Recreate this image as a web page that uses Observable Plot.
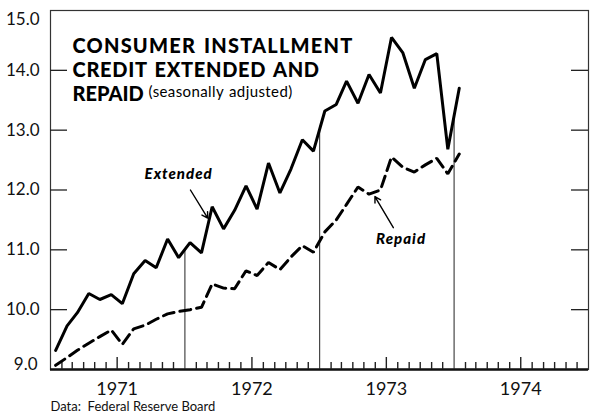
<!DOCTYPE html>
<html><head><meta charset="utf-8">
<script src="https://cdn.jsdelivr.net/npm/d3@7"></script>
<script src="https://cdn.jsdelivr.net/npm/@observablehq/plot@0.6"></script>
<style>body{margin:0;background:#fff}</style>
</head><body><div id="chart"></div>
<script>
// Monthly data, Jan 1971 .. Jan 1974 (billions of dollars, seasonally adjusted)
const startYear = 1971;
const extended = [9.32, 9.73, 9.95, 10.27, 10.17, 10.25, 10.1, 10.6, 10.82, 10.7, 11.18, 10.87,
                  11.12, 10.95, 11.72, 11.35, 11.66, 12.07, 11.68, 12.45, 11.95, 12.35, 12.84, 12.65,
                  13.32, 13.43, 13.82, 13.45, 13.93, 13.62, 14.55, 14.29, 13.70, 14.18, 14.28, 12.68,
                  13.70];
const repaid = [9.07, 9.2, 9.32, 9.44, 9.55, 9.66, 9.42, 9.68, 9.74, 9.84, 9.93, 9.97,
                10.0, 10.04, 10.43, 10.36, 10.35, 10.65, 10.57, 10.79, 10.67, 10.88, 11.07, 10.96,
                11.3, 11.5, 11.76, 12.05, 11.93, 12.0, 12.55, 12.38, 12.3, 12.42, 12.53, 12.27,
                12.6];
const yTicks = [10, 11, 12, 13, 14];
const yBottomLabel = [9];
const yTopLabel = [15];
const yearLabels = [1971, 1972, 1973, 1974];
const boundaryYears = [1972, 1973, 1974];
const titleLines = ["CONSUMER INSTALLMENT", "CREDIT EXTENDED AND", "REPAID"];
const subtitleText = "(seasonally adjusted)";
const captionText = "Data:  Federal Reserve Board";
const seriesLabels = [
  {text: "Extended", date: "1971-12-15", value: 12.27},
  {text: "Repaid", date: "1973-08-10", value: 11.17}
];
const arrowNotes = [
  {fromDate: "1972-01-16", fromValue: 12.0, toDate: "1972-03-03", toValue: 11.53},
  {fromDate: "1973-07-20", fromValue: 11.37, toDate: "1973-05-31", toValue: 11.89}
];

const monthDate = i => new Date(Date.UTC(startYear, i, 15));
const extData = extended.map((v, i) => ({date: monthDate(i), value: v}));
const repData = repaid.map((v, i) => ({date: monthDate(i), value: v}));

// vertical year-boundary lines reach up to the Extended line
const boundaries = boundaryYears.map(y => {
  const i = (y - startYear) * 12;
  const d = new Date(Date.UTC(y, 0, 1));
  const a = extData[i - 1], b = extData[i];
  const t = (d - a.date) / (b.date - a.date);
  return {date: d, top: a.value + t * (b.value - a.value)};
});

const monthTicks = d3.utcMonths(new Date(Date.UTC(1971, 0, 1)), new Date(Date.UTC(1975, 0, 1)))
  .filter(d => d.getUTCMonth() !== 0);
const smallTicks = monthTicks.filter(d => d.getUTCMonth() !== 6);
const midTicks = monthTicks.filter(d => d.getUTCMonth() === 6);

const innerH = 419 - 10 - 50;
const innerW = 592 - 50 - 4;

const chart = Plot.plot({
  width: 592, height: 419,
  marginLeft: 50, marginRight: 4, marginTop: 10, marginBottom: 50,
  x: {type: "utc", domain: [new Date(Date.UTC(1971, 0, 1)), new Date(Date.UTC(1975, 0, 1))], axis: null},
  y: {domain: [9, 15], axis: null},
  style: {fontFamily: "Lato, 'DejaVu Sans', sans-serif", background: "#fff", color: "#111"},
  marks: [
    Plot.frame({stroke: "#333", strokeWidth: 1.2}),
    Plot.ruleY([9], {stroke: "#111", strokeWidth: 2.5}),
    // y ticks, inward on both sides
    Plot.tickY(yTicks, {y: d => d, insetRight: innerW - 17, stroke: "#222", strokeWidth: 1.3}),
    Plot.tickY(yTicks, {y: d => d, insetLeft: innerW - 17, stroke: "#222", strokeWidth: 1.3}),
    // x month ticks
    Plot.tickX(smallTicks, {x: d => d, insetTop: innerH - 7, stroke: "#222", strokeWidth: 1.4}),
    Plot.tickX(midTicks, {x: d => d, insetTop: innerH - 12, stroke: "#222", strokeWidth: 1.4}),
    // year boundary lines
    Plot.ruleX(boundaries, {x: "date", y1: 9, y2: "top", stroke: "#222", strokeWidth: 1}),
    // series
    Plot.line(extData, {x: "date", y: "value", stroke: "#000", strokeWidth: 3, strokeLinejoin: "miter"}),
    Plot.line(repData, {x: "date", y: "value", stroke: "#000", strokeWidth: 3, strokeDasharray: "11,6", strokeLinejoin: "miter"}),
    // y labels
    Plot.text(yTicks, {y: d => d, frameAnchor: "left", text: d => d.toFixed(1), textAnchor: "end", dx: -11, fontSize: 17, fill: "#111"}),
    Plot.text(yBottomLabel, {y: d => d, frameAnchor: "left", text: d => d.toFixed(1), textAnchor: "end", dx: -13, dy: -5, fontSize: 17, fill: "#111"}),
    Plot.text(yTopLabel, {y: d => d, frameAnchor: "left", text: d => d.toFixed(1), textAnchor: "end", dx: -11, dy: 9, fontSize: 17, fill: "#111"}),
    // year labels
    Plot.text(yearLabels, {x: d => new Date(Date.UTC(d, 6, 1)), frameAnchor: "bottom", text: d => String(d), lineAnchor: "top", dy: 13, fontSize: 18, fill: "#111"}),
    // title
    Plot.text([titleLines.join("\n")], {frameAnchor: "top-left", text: d => d, textAnchor: "start", lineAnchor: "top", dx: 22, dy: 25, fontSize: 20, fontWeight: 900, lineHeight: 1.2, fill: "#000"}),
    Plot.text([subtitleText], {frameAnchor: "top-left", text: d => d, textAnchor: "start", lineAnchor: "top", dx: 98, dy: 76, fontSize: 15, fill: "#000"}),
    // series labels and arrows
    Plot.text(seriesLabels, {x: d => new Date(d.date), y: "value", text: "text", fontSize: 15, fontWeight: 900, fontStyle: "italic", fill: "#000"}),
    Plot.arrow(arrowNotes, {x1: d => new Date(d.fromDate), y1: "fromValue", x2: d => new Date(d.toDate), y2: "toValue", stroke: "#000", strokeWidth: 1.4, headLength: 7}),
    // caption
    Plot.text([captionText], {frameAnchor: "bottom-left", text: d => d, textAnchor: "start", lineAnchor: "top", dy: 32, dx: 0, fontSize: 13, fill: "#111"})
  ]
});

// letter / word spacing tweaks to mimic the geometric typeface
const spacing = (sel, prefix, letter, word) => d3.select(chart).selectAll(sel)
  .filter(function() { return this.textContent.startsWith(prefix); })
  .style("letter-spacing", letter + "px").style("word-spacing", word + "px");
spacing("tspan", titleLines[0], 1.2, 2);
spacing("tspan", titleLines[1], 0.7, 2);
spacing("text", "(seasonally", 0.4, 1);
spacing("text", "Extended", 1, 0);
spacing("text", "Repaid", 1, 0);
document.getElementById("chart").appendChild(chart);
</script>
</body></html>
